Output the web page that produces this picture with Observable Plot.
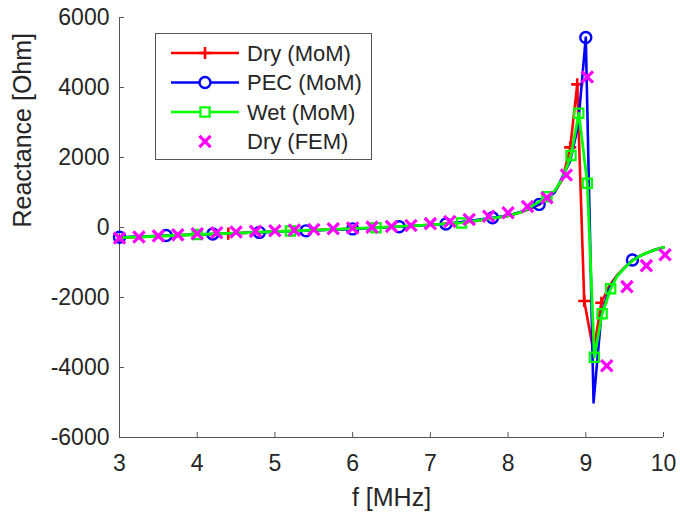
<!DOCTYPE html>
<html><head><meta charset="utf-8">
<script src="https://cdn.jsdelivr.net/npm/d3@7"></script>
<script src="https://cdn.jsdelivr.net/npm/@observablehq/plot@0.6"></script>
<style>
body{margin:0;background:#fff;}
#wrap{position:relative;width:680px;height:525px;font-family:"Liberation Sans",Arial,sans-serif;}
</style></head><body><div id="wrap"></div>
<script>
// ---- data ----
const xTicks = [3, 4, 5, 6, 7, 8, 9, 10];
const yTicks = [-6000, -4000, -2000, 0, 2000, 4000, 6000];

const dryF = [3.0, 3.5, 4.0, 4.4, 5.0, 5.5, 6.0, 6.5, 7.0, 7.5, 8.0, 8.2, 8.4, 8.5, 8.6, 8.7, 8.8, 8.89, 8.98, 9.1, 9.2, 9.3, 9.4, 9.5, 9.6, 9.7, 9.8, 9.9, 10.0];
const dryX = [-290, -250, -200, -175, -115, -75, -35, 15, 75, 160, 330, 460, 650, 820, 1020, 1380, 2290, 4090, -2100, -3550, -2150, -1680, -1370, -1140, -950, -810, -710, -630, -570];
const dryMarkF = [4.4, 8.8, 8.89, 8.98, 9.2];

const pecF = [3.0, 3.6, 4.2, 4.8, 5.4, 6.0, 6.6, 7.2, 7.8, 8.0, 8.2, 8.4, 8.6, 8.8, 8.9, 9.0, 9.1, 9.2, 9.3, 9.4, 9.5, 9.6, 9.7, 9.8, 9.9, 10.0];
const pecX = [-280, -230, -185, -140, -95, -40, 20, 100, 280, 340, 470, 660, 1000, 1900, 2900, 5429, -5000, -2500, -1760, -1390, -1150, -930, -810, -710, -630, -570];
const pecMarkF = [3.0, 3.6, 4.2, 4.8, 5.4, 6.0, 6.6, 7.2, 7.8, 8.4, 9.0, 9.6];

const wetF = [3.0, 3.5, 4.0, 4.5, 5.2, 5.5, 6.0, 6.3, 7.0, 7.4, 8.0, 8.2, 8.5, 8.6, 8.7, 8.81, 8.91, 9.02, 9.11, 9.21, 9.32, 9.4, 9.5, 9.6, 9.7, 9.8, 9.9, 10.0];
const wetX = [-290, -250, -200, -160, -100, -75, -35, -5, 75, 130, 330, 460, 880, 1050, 1400, 2057, 3266, 1266, -3706, -2466, -1751, -1400, -1150, -950, -810, -710, -630, -570];
const wetMarkF = [4.0, 5.2, 6.3, 7.4, 8.5, 8.81, 8.91, 9.02, 9.11, 9.21, 9.32];

const femF = [3.0, 3.25, 3.5, 3.75, 4.0, 4.25, 4.5, 4.75, 5.0, 5.25, 5.5, 5.75, 6.0, 6.25, 6.5, 6.75, 7.0, 7.25, 7.5, 7.75, 8.0, 8.25, 8.5, 8.75, 9.02, 9.27, 9.53, 9.78, 10.02];
const femX = [-300, -270, -240, -210, -180, -150, -130, -110, -95, -75, -55, -35, -15, 10, 30, 55, 110, 170, 230, 320, 420, 600, 850, 1500, 4300, -3950, -1690, -1090, -780];

const seriesNames = ["Dry (MoM)", "PEC (MoM)", "Wet (MoM)", "Dry (FEM)"];
const seriesColors = ["#ff0000", "#0000ff", "#00ff00", "#ff00ff"];

// ---- build tables ----
const toRows = (F, X) => F.map((f, i) => ({f, x: X[i]}));
const pick = (F, X, M) => M.map(m => ({f: m, x: X[F.indexOf(m)]}));
const dry = toRows(dryF, dryX), pec = toRows(pecF, pecX), wet = toRows(wetF, wetX), fem = toRows(femF, femX);
const dryM = pick(dryF, dryX, dryMarkF), pecM = pick(pecF, pecX, pecMarkF), wetM = pick(wetF, wetX, wetMarkF);

const font = "Liberation Sans, Arial, Helvetica, sans-serif";
const ink = "#262626";

const chart = Plot.plot({
  width: 680, height: 525,
  marginLeft: 119, marginRight: 17, marginTop: 17, marginBottom: 88,
  style: {fontFamily: font, fontSize: "23px", color: ink, background: "#fff", overflow: "visible"},
  x: {domain: [3, 10]},
  y: {domain: [-6000, 6000]},
  marks: [
    Plot.ruleX([3], {stroke: "#555", strokeWidth: 1}),
    Plot.ruleY([-6000], {stroke: "#555", strokeWidth: 1}),
    Plot.tickX(xTicks, {x: d => d, insetTop: 415, stroke: "#555"}),
    Plot.tickY(yTicks, {y: d => d, insetRight: 539, stroke: "#555"}),
    Plot.axisX({ticks: xTicks, tickFormat: d => String(d), tickSize: 0, tickPadding: 17, fontSize: 23, label: null}),
    Plot.axisY({ticks: yTicks, tickFormat: d => String(d), tickSize: 0, tickPadding: 10, fontSize: 23, label: null}),
    Plot.text(["f [MHz]"], {frameAnchor: "bottom", dy: 60, fontSize: 25, lineAnchor: "middle", text: d => d}),
    Plot.text(["Reactance [Ohm]"], {frameAnchor: "left", dx: -97, rotate: -90, fontSize: 25, lineAnchor: "middle", text: d => d}),
    Plot.line(dry, {x: "f", y: "x", stroke: seriesColors[0], strokeWidth: 2.6}),
    Plot.dot(dryM, {x: "f", y: "x", symbol: "plus", r: 4, stroke: seriesColors[0], strokeWidth: 2.6}),
    Plot.line(pec, {x: "f", y: "x", stroke: seriesColors[1], strokeWidth: 2.6}),
    Plot.dot(pecM, {x: "f", y: "x", symbol: "circle", r: 5.5, stroke: seriesColors[1], strokeWidth: 2.4, fill: "none"}),
    Plot.line(wet, {x: "f", y: "x", stroke: seriesColors[2], strokeWidth: 2.8}),
    Plot.dot(wetM, {x: "f", y: "x", symbol: "square", r: 5.2, stroke: seriesColors[2], strokeWidth: 2.2, fill: "none"}),
    Plot.dot(fem, {x: "f", y: "x", symbol: "times", r: 5.2, stroke: seriesColors[3], strokeWidth: 3.2})
  ]
});
const wrap = document.getElementById("wrap");
wrap.appendChild(chart);
chart.querySelectorAll("text").forEach(t => t.setAttribute("fill", ink));

// ---- legend overlay ----
const lw = 217, lh = 127;
const leg = d3.create("svg").attr("width", lw).attr("height", lh)
  .style("position", "absolute").style("left", "155px").style("top", "33px");
leg.append("rect").attr("x", 0.5).attr("y", 0.5).attr("width", lw - 1).attr("height", lh - 1)
  .attr("fill", "#fff").attr("stroke", "#555").attr("stroke-width", 1);
const symbols = [d3.symbolPlus, d3.symbolCircle, d3.symbolSquare, d3.symbolTimes];
const sizes = [Math.PI * 16, Math.PI * 30, Math.PI * 27, Math.PI * 27];
const sw = [2.6, 2.4, 2.2, 3.2];
seriesNames.forEach((name, i) => {
  const cy = 20 + i * 29.5;
  const g = leg.append("g");
  if (i < 3) g.append("line").attr("x1", 16).attr("x2", 84).attr("y1", cy).attr("y2", cy)
    .attr("stroke", seriesColors[i]).attr("stroke-width", 2.6);
  g.append("path").attr("d", d3.symbol(symbols[i], sizes[i])()).attr("transform", `translate(50,${cy})`)
    .attr("fill", i === 3 || i === 0 ? "none" : "#fff").attr("stroke", seriesColors[i]).attr("stroke-width", sw[i]);
  g.append("text").attr("x", 92).attr("y", cy).attr("dy", "0.36em").attr("font-family", font)
    .attr("font-size", 22).attr("fill", ink).text(name);
});
wrap.appendChild(leg.node());
</script></body></html>
